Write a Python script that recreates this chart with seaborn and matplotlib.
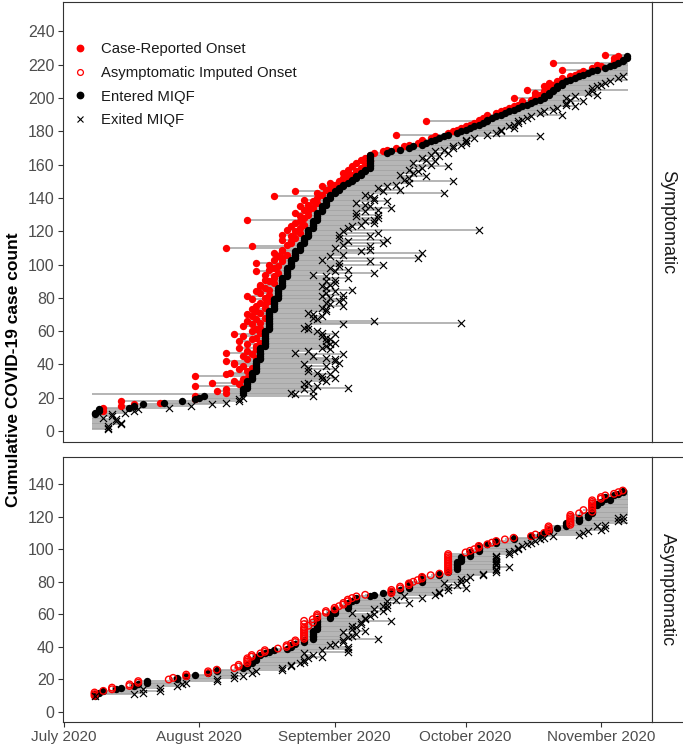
import numpy as np
import pandas as pd
import matplotlib
matplotlib.use("Agg")
import matplotlib.pyplot as plt
import seaborn as sns
from matplotlib.lines import Line2D

# ---------------------------------------------------------------- data
BASE_DATE = pd.Timestamp("2020-07-01")   # day 0 of all day offsets below
WINDOW_START = 6.3     # observation window start (cases already in MIQF)
WINDOW_END = 129.2     # observation window end (cases still in MIQF)

# ---- Symptomatic cases (cumulative count 1..226), day offsets from 1 July 2020
sym_first_count = 1
sym_entry = [
    None, None, None, None, None, None, None, None, None, 7,
    7, 8, 8, 15, 16, 18, 23, 27, 30, 31,
    32, None, 41, 41, 41, 42, 42, 42, 42, 42,
    43, 43, 43, 43, 43, 44, 44, 44, 44, 44,
    44, 44, 45, 45, 45, 45, 45, 45, 45, 45,
    46, 46, 46, 46, 46, 46, 46, 46, 46, 46,
    47, 47, 47, 47, 47, 47, 47, 47, 47, 47,
    47, 47, 48, 48, 48, 48, 48, 48, 48, 49,
    49, 49, 49, 49, 49, 49, 50, 50, 50, 50,
    50, 50, 51, 51, 51, 51, 51, 51, 52, 52,
    52, 52, 52, 53, 53, 53, 53, 53, 54, 54,
    54, 54, 55, 55, 55, 55, 56, 56, 56, 56,
    56, 57, 57, 57, 57, 57, 58, 58, 58, 58,
    58, 59, 59, 59, 59, 60, 60, 60, 60, 61,
    61, 61, 62, 62, 63, 63, 64, 64, 65, 66,
    66, 67, 67, 68, 68, 69, 69, 70, 70, 70,
    70, 70, 70, 70, 70, 70, 74, 75, 77, 79,
    80, 82, 83, 84, 85, 86, 87, 88, 90, 91,
    92, 93, 94, 95, 96, 97, 97, 98, 99, 100,
    101, 102, 103, 104, 105, 106, 107, 108, 109, 110,
    110, 111, 111, 112, 112, 113, 113, 114, 114, 115,
    116, 117, 118, 119, 120, 121, 122, 124, 125, 126,
    127, 128, 128, 129, 129, None,
]
sym_onset = [
    None, None, None, None, None, None, None, None, None, None,
    None, 9, None, 9, 13, 16, 22, 13, 30, None,
    30, None, 37, 35, 37, 41, 30, 40, 34, 39,
    41, 42, 30, 37, 38, 42, 40, 43, 41, 39,
    39, 37, 42, 44, 41, 43, 37, 42, 44, 40,
    44, 42, 45, 40, 43, 44, 41, 39, 45, 43,
    44, 45, 41, 43, 45, 42, 44, 46, 43, 42,
    45, 44, 43, 46, 44, 46, 45, 47, 43, 46,
    42, 47, 45, 44, 47, 46, 45, 45, 48, 47,
    46, 48, 48, 46, 49, 44, 47, 48, 49, 47,
    44, 50, 48, 50, 49, 51, 48, 50, 50, 37,
    43, 51, 52, 52, 50, 53, 52, 50, 54, 53,
    51, 54, 52, 55, 53, 54, 42, 55, 54, 56,
    53, 56, 55, 57, 54, 56, 58, 57, 55, 58,
    48, 59, 58, 53, 60, 61, 59, 62, 61, 63,
    64, 64, 65, 66, 64, 67, 65, 68, 66, 69,
    67, 70, 68, 69, 70, 70, 71, 73, 74, 76,
    78, 79, 81, 82, 82, 84, 85, 76, 88, 89,
    90, 91, 92, 93, 94, 83, 95, 96, 97, 97,
    99, 100, 101, 102, 103, 104, 105, 105, 107, 103,
    108, 109, 108, 110, 106, 111, 110, 112, 111, 113,
    114, 114, 116, 117, 118, 119, 114, 121, 123, 122,
    112, 126, 127, 126, 127, 124,
]
sym_exit = [
    10, 10, 10, 13, 13, 12, 12, 9, 11, 11,
    14, 16, 17, 24, 29, 34, 37, 40, 40, 41,
    57, 53, 52, 57, 55, 65, 58, 55, 56, 60,
    59, 62, 59, 61, 58, 56, 62, 56, 60, 55,
    63, 62, 62, 60, 57, 64, 53, 56, 61, 59,
    60, 61, 62, 60, 61, 60, 59, 62, 59, 58,
    56, 55, 56, 64, 91, 71, 58, 57, 59, 57,
    56, 60, 60, 59, 64, 61, 60, 63, 64, 61,
    59, 64, 60, 62, 66, 60, 59, 61, 62, 60,
    62, 65, 60, 57, 71, 62, 65, 61, 63, 73,
    63, 70, 59, 81, 61, 64, 82, 68, 70, 62,
    70, 64, 73, 65, 74, 63, 70, 63, 72, 64,
    95, 65, 66, 68, 71, 69, 71, 72, 67, 72,
    67, 69, 72, 75, 70, 69, 67, 74, 71, 71,
    70, 69, 87, 73, 77, 72, 74, 76, 79, 89,
    78, 79, 83, 77, 80, 81, 79, 82, 88, 84,
    80, 85, 83, 82, 86, 84, 88, 85, 87, 89,
    89, 91, 92, 92, 92, 94, 109, 97, 99, 100,
    100, 103, 102, 103, 104, 104, 105, 106, 107, 114,
    109, 110, 112, 113, 117, 115, 115, 119, 116, 115,
    117, 122, 120, 121, None, 121, 122, 123, 124, 125,
    None, 127, 128, None, None, None, None, None, None, None,
    None, None, None, None, None, None,
]

# ---- Asymptomatic cases (cumulative count 10..136)
asym_first_count = 10
asym_onset = [
    7, 7, 7, 9, 11, 11, 15, 15, 17, 17,
    24, 25, 28, 28, 33, 33, 35, 39, 40, 40,
    42, 42, 42, 42, 43, 43, 45, 46, 46, 49,
    51, 51, 52, 53, 53, 55, 55, 55, 55, 55,
    55, 55, 55, 56, 55, 57, 55, 57, 58, 58,
    58, 60, 60, 62, 62, 63, 64, 64, 65, 65,
    66, 67, 69, 75, 75, 75, 77, 77, 79, 79,
    80, 81, 82, 82, 84, 86, 88, 88, 88, 88,
    88, 88, 88, 88, 88, 88, 88, 88, 92, 93,
    94, 95, 95, 97, 98, 99, 101, 103, 107, 108,
    110, 111, 111, 111, 111, 116, 116, 116, 116, 116,
    116, 116, 118, 121, 119, 121, 121, 121, 121, 121,
    121, 123, 123, 124, 126, 127, 128,
]
asym_entry = [
    7, 7, 8, 9, 12, 13, 16, 17, 19, 19,
    26, 26, 28, 30, 33, 35, 35, 41, 42, 42,
    43, 43, 44, 44, 44, 45, 46, 47, 48, 51,
    52, 52, 53, 55, 55, 57, 57, 57, 57, 57,
    57, 58, 58, 58, 58, 58, 58, 58, 61, 61,
    61, 62, 62, 62, 65, 65, 65, 65, 66, 67,
    67, 70, 71, 73, 75, 77, 79, 79, 79, 79,
    82, 82, 82, 82, 86, 86, 88, 88, 90, 90,
    90, 90, 90, 91, 91, 91, 93, 93, 93, 95,
    95, 95, 95, 97, 99, 99, 103, 103, 107, 109,
    110, 111, 111, 113, 115, 115, 115, 118, 118, 118,
    120, 120, 121, 121, 121, 121, 121, 122, 122, 123,
    125, 124, 124, 126, 127, 128, 128,
]
asym_exit = [
    7, 16, 18, 22, 18, 22, 26, 27, 28, 35,
    35, 39, 41, 39, 43, 44, 50, 50, 52, 52,
    54, 55, 55, 56, 59, 57, 55, 65, 59, 65,
    65, 61, 62, 64, 64, 72, 65, 66, 67, 64,
    69, 66, 67, 66, 68, 68, 75, 69, 69, 70,
    71, 66, 73, 71, 74, 73, 74, 79, 74, 76,
    82, 78, 85, 86, 86, 88, 92, 88, 90, 87,
    91, 92, 91, 93, 96, 96, 99, 99, 99, 102,
    99, 99, 99, 99, 99, 99, 99, 102, 102, 103,
    104, 104, 105, 106, 107, 108, 109, 110, 112, 118,
    119, 120, 123, 124, 122, 124, None, 127, 128, 127,
    128, None, None, None, None, None, None, None, None, None,
    None, None, None, None, None, None, None,
]

panel_names = ["Symptomatic", "Asymptomatic"]
legend_labels = ["Case-Reported Onset", "Asymptomatic Imputed Onset",
                 "Entered MIQF", "Exited MIQF"]
month_tick_dates = ["2020-07-01", "2020-08-01", "2020-09-01", "2020-10-01", "2020-11-01"]
month_tick_labels = ["July 2020", "August 2020", "September 2020", "October 2020", "November 2020"]
sym_yticks = [0, 20, 40, 60, 80, 100, 120, 140, 160, 180, 200, 220, 240]
asym_yticks = [0, 20, 40, 60, 80, 100, 120, 140]
y_label = "Cumulative COVID-19 case count"

for lst in (sym_onset, sym_exit):
    assert len(lst) == len(sym_entry), len(lst)
for lst in (asym_onset, asym_exit):
    assert len(lst) == len(asym_entry), len(lst)


def to_date(days):
    return BASE_DATE + pd.to_timedelta(np.asarray(days, dtype=float), unit="D")


def build_frame(first_count, onset, entry, exit_):
    on = np.array(onset, dtype=float)
    en = np.array(entry, dtype=float)
    ex = np.array(exit_, dtype=float)
    start = np.fmin(on, en)
    start = np.where(np.isnan(start), WINDOW_START, start)
    end = np.where(np.isnan(ex), WINDOW_END, ex)
    return pd.DataFrame({
        "count": np.arange(first_count, first_count + len(en)),
        "onset": to_date(on), "entry": to_date(en), "exit": to_date(ex),
        "start": to_date(start), "end": to_date(end),
    })


sym_df = build_frame(sym_first_count, sym_onset, sym_entry, sym_exit)
asym_df = build_frame(asym_first_count, asym_onset, asym_entry, asym_exit)

# ---------------------------------------------------------------- style
sns.set_style("white")
plt.rcParams["font.family"] = ["Liberation Sans", "DejaVu Sans"]

W, H = 683, 751
fig = plt.figure(figsize=(W / 100, H / 100), dpi=100)


def rect(l, t, r, b):
    return [l / W, 1 - b / H, (r - l) / W, (b - t) / H]


ax_top = fig.add_axes(rect(63, 2, 652, 442))
ax_bot = fig.add_axes(rect(63, 457, 652, 722))
st_top = fig.add_axes(rect(652, 2, 700, 442))
st_bot = fig.add_axes(rect(652, 457, 700, 722))

LINE_COLOR = "#a2a2a2"
BORDER = "#333333"
DOT_S = 28
X_S = 26


def draw_panel(ax, df, open_onset):
    ax.hlines(df["count"], df["start"], df["end"], color=LINE_COLOR,
              linewidth=1.12, zorder=1)
    on = df.dropna(subset=["onset"])
    en = df.dropna(subset=["entry"])
    ex = df.dropna(subset=["exit"])
    if not open_onset:
        sns.scatterplot(data=on, x="onset", y="count", ax=ax, color="red",
                        edgecolor="red", linewidth=0, s=DOT_S, zorder=2, legend=False)
        sns.scatterplot(data=en, x="entry", y="count", ax=ax, color="black",
                        edgecolor="black", linewidth=0, s=DOT_S, zorder=3, legend=False)
    else:
        sns.scatterplot(data=en, x="entry", y="count", ax=ax, color="black",
                        edgecolor="black", linewidth=0, s=DOT_S, zorder=2, legend=False)
        sns.scatterplot(data=on, x="onset", y="count", ax=ax, color="red",
                        s=DOT_S * 0.8, linewidth=1.0, zorder=3, legend=False)
        coll = ax.collections[-1]
        coll.set_facecolor("none")
        coll.set_edgecolor("red")
    sns.scatterplot(data=ex, x="exit", y="count", ax=ax, color="black",
                    marker="x", s=X_S, linewidth=0.85, zorder=4, legend=False)


draw_panel(ax_top, sym_df, open_onset=False)
draw_panel(ax_bot, asym_df, open_onset=True)

xlim = (BASE_DATE - pd.Timedelta(hours=5.5), BASE_DATE + pd.Timedelta(days=134.7))
tick_dates = pd.to_datetime(month_tick_dates)

for ax, yt, ylim in ((ax_top, sym_yticks, (-6.6, 257.7)),
                     (ax_bot, asym_yticks, (-6.1, 156.6))):
    ax.set_xlim(*xlim)
    ax.set_ylim(*ylim)
    ax.set_yticks(yt)
    ax.set_yticklabels([str(v) for v in yt])
    ax.set_xlabel("")
    ax.set_ylabel("")
    ax.grid(False)
    for sp in ax.spines.values():
        sp.set_color(BORDER)
        sp.set_linewidth(0.8)
    ax.tick_params(axis="y", length=3.6, width=0.8, color=BORDER, pad=2.4,
                   labelsize=11.5, labelcolor="#4d4d4d", left=True)

ax_top.set_xticks(tick_dates)
ax_top.tick_params(axis="x", bottom=False, labelbottom=False)
ax_bot.set_xticks(tick_dates)
ax_bot.set_xticklabels(month_tick_labels)
ax_bot.tick_params(axis="x", length=3.6, width=0.8, color=BORDER, pad=2.4,
                   labelsize=11, labelcolor="#4d4d4d", bottom=True)

# facet strips
for st, name in ((st_top, panel_names[0]), (st_bot, panel_names[1])):
    st.set_xticks([])
    st.set_yticks([])
    st.set_facecolor("white")
    for sp in st.spines.values():
        sp.set_color(BORDER)
        sp.set_linewidth(0.8)
    st.text(15.5 / 48, 0.5, name, rotation=270, ha="center", va="center",
            fontsize=13, color="#1a1a1a", transform=st.transAxes)

# legend
handles = [
    Line2D([], [], linestyle="none", marker="o", markersize=4.6,
           markerfacecolor="red", markeredgecolor="red", label=legend_labels[0]),
    Line2D([], [], linestyle="none", marker="o", markersize=4.2,
           markerfacecolor="none", markeredgecolor="red", markeredgewidth=0.9,
           label=legend_labels[1]),
    Line2D([], [], linestyle="none", marker="o", markersize=4.6,
           markerfacecolor="black", markeredgecolor="black", label=legend_labels[2]),
    Line2D([], [], linestyle="none", marker="x", markersize=4.4,
           color="black", markeredgewidth=0.8, label=legend_labels[3]),
]
ax_top.legend(handles=handles, loc="upper left", bbox_to_anchor=(0.016, 0.909),
              frameon=False, fontsize=10.7, handlelength=1.0, handletextpad=0.9,
              labelspacing=0.66, borderpad=0, borderaxespad=0, labelcolor="#1a1a1a")

fig.text(14 / W, 1 - 370 / H, y_label, rotation=90, ha="center", va="center",
         fontsize=12.5, fontweight="bold", color="black")

fig.savefig("out.png", dpi=100)
